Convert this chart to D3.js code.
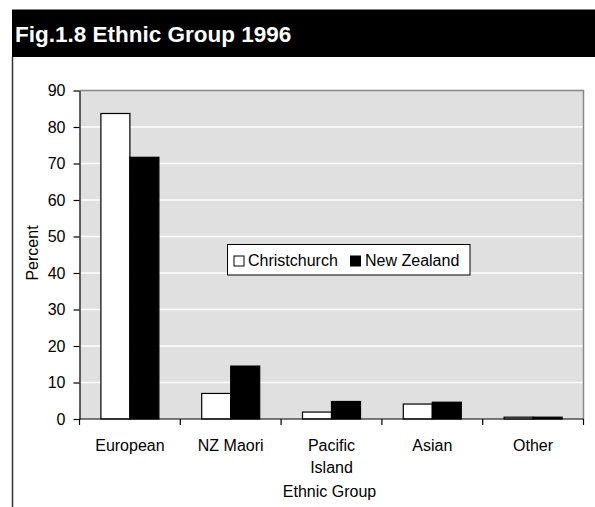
<!DOCTYPE html>
<html>
<head>
<meta charset="utf-8">
<script src="https://cdn.jsdelivr.net/npm/d3@7"></script>
<style>
  html, body { margin: 0; padding: 0; background: #fff; }
  svg { display: block; font-family: Arial, "Liberation Sans", sans-serif; }
</style>
</head>
<body>
<svg id="chart" width="595" height="507"></svg>
<script>
// Ethnic composition, 1996 census (percent of population)
const categories = ["European", "NZ Maori", "Pacific\nIsland", "Asian", "Other"];
const seriesNames = ["Christchurch", "New Zealand"];
const christchurch = [83.7, 7.0, 1.9, 4.1, 0.5];
const newZealand = [71.7, 14.5, 4.8, 4.6, 0.5];
const yTicks = [0, 10, 20, 30, 40, 50, 60, 70, 80, 90];
const seriesFill = ["#ffffff", "#000000"];

(function () {
const svg = d3.select("#chart");
const fs = 16;

// Title banner and page frame
svg.append("rect").attr("x", 12).attr("y", 9.5).attr("width", 583).attr("height", 47.5).attr("fill", "#000");
svg.append("text").attr("x", 15).attr("y", 42).attr("fill", "#fff")
  .attr("font-size", 22.5).attr("font-weight", "bold").text("Fig.1.8 Ethnic Group 1996");
svg.append("line").attr("x1", 12.5).attr("x2", 12.5).attr("y1", 57).attr("y2", 507)
  .attr("stroke", "#333").attr("stroke-width", 1.5);

// Plot area
const pLeft = 79.5, pRight = 583.5, pTop = 90.5, pBottom = 419;
const x = d3.scaleBand().domain(categories).range([pLeft, pRight]).paddingInner(0).paddingOuter(0);
const xs = d3.scaleBand().domain(seriesNames).range([0, 58]);
const y = d3.scaleLinear().domain([0, 90]).range([pBottom, pTop]);

svg.append("rect").attr("x", pLeft).attr("y", pTop).attr("width", pRight - pLeft).attr("height", pBottom - pTop)
  .attr("fill", "#e0e0e0");

// Gridlines
svg.append("g").selectAll("line").data(yTicks.filter(t => t > 0 && t < 90)).join("line")
  .attr("x1", pLeft).attr("x2", pRight)
  .attr("y1", d => y(d)).attr("y2", d => y(d))
  .attr("stroke", "#fff").attr("stroke-width", 1.5);

// Plot border (top and right)
svg.append("path")
  .attr("d", `M${pLeft},${pTop}H${pRight}V${pBottom}`)
  .attr("fill", "none").attr("stroke", "#888").attr("stroke-width", 1.5);

// Bars
const rows = categories.map((c, i) => ({ cat: c, vals: [christchurch[i], newZealand[i]] }));
const groups = svg.append("g").selectAll("g").data(rows).join("g")
  .attr("transform", d => `translate(${x(d.cat) + x.bandwidth() / 2 - 29},0)`);
groups.selectAll("rect").data(d => d.vals.map((v, j) => ({ name: seriesNames[j], v, j }))).join("rect")
  .attr("x", d => xs(d.name))
  .attr("width", xs.bandwidth())
  .attr("y", d => y(d.v))
  .attr("height", d => y(0) - y(d.v))
  .attr("fill", d => seriesFill[d.j])
  .attr("stroke", "#000").attr("stroke-width", 1.2);

// Y axis
const yAxis = svg.append("g").attr("transform", `translate(${pLeft},0)`)
  .call(d3.axisLeft(y).tickValues(yTicks).tickSize(6).tickPadding(8).tickSizeOuter(0));
yAxis.select(".domain").attr("stroke", "#000").attr("stroke-width", 1.2);
yAxis.selectAll(".tick line").attr("stroke", "#000").attr("stroke-width", 1.2);
yAxis.selectAll(".tick text").attr("font-size", fs).attr("font-family", "Arial, 'Liberation Sans', sans-serif").attr("fill", "#000");

// X axis: baseline, ticks at category boundaries, labels at centres
const xAxis = svg.append("g");
xAxis.append("line").attr("x1", pLeft).attr("x2", pRight).attr("y1", pBottom).attr("y2", pBottom)
  .attr("stroke", "#000").attr("stroke-width", 1.2);
const bounds = categories.map(c => x(c)).concat([x(categories[categories.length - 1]) + x.bandwidth()]);
xAxis.selectAll("line.tk").data(bounds).join("line").attr("class", "tk")
  .attr("x1", d => d).attr("x2", d => d).attr("y1", pBottom).attr("y2", pBottom + 6)
  .attr("stroke", "#000").attr("stroke-width", 1.2);
const lbl = xAxis.selectAll("text").data(categories).join("text")
  .attr("x", d => x(d) + x.bandwidth() / 2).attr("y", 451)
  .attr("text-anchor", "middle").attr("font-size", fs).attr("fill", "#000");
lbl.selectAll("tspan").data(d => d.split("\n")).join("tspan")
  .attr("x", function () { return d3.select(this.parentNode).attr("x"); })
  .attr("dy", (d, i) => i === 0 ? 0 : 21.5)
  .text(d => d);

// Axis titles
svg.append("text").attr("x", (pLeft + pRight) / 2 - 2).attr("y", 497).attr("text-anchor", "middle")
  .attr("font-size", fs).attr("fill", "#000").text("Ethnic Group");
svg.append("text").attr("transform", "translate(38,253) rotate(-90)").attr("text-anchor", "middle")
  .attr("font-size", fs).attr("fill", "#000").text("Percent");

// Legend
const lg = svg.append("g").attr("transform", "translate(227.5,244.5)");
lg.append("rect").attr("width", 242.5).attr("height", 30.5).attr("fill", "#fff").attr("stroke", "#000").attr("stroke-width", 1);
const items = [{ name: seriesNames[0], sx: 6.5, tx: 20.5 }, { name: seriesNames[1], sx: 123, tx: 137.5 }];
items.forEach((it, j) => {
  lg.append("rect").attr("x", it.sx).attr("y", 11.5).attr("width", 10).attr("height", 10)
    .attr("fill", seriesFill[j]).attr("stroke", "#000").attr("stroke-width", 1);
  lg.append("text").attr("x", it.tx).attr("y", 21.5).attr("font-size", fs).attr("fill", "#000").text(it.name);
});
})();
</script>
</body>
</html>
